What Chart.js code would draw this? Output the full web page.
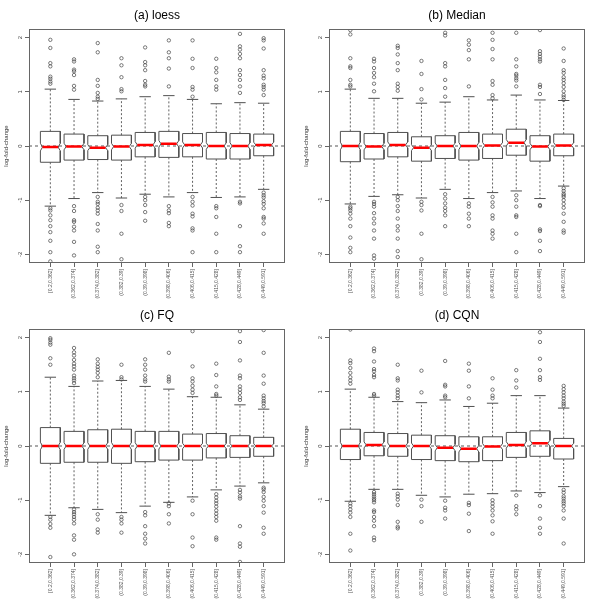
<!DOCTYPE html>
<html>
<head>
<meta charset="utf-8">
<script src="https://cdn.jsdelivr.net/npm/chart.js@4.4.0/dist/chart.umd.min.js"></script>
<style>
  html, body { margin: 0; padding: 0; background: #fff; }
  #grid { width: 600px; height: 600px; display: grid; grid-template-columns: 300px 300px; grid-template-rows: 300px 300px; }
  canvas { display: block; }
</style>
</head>
<body>
<div id="grid">
  <canvas id="chartA" width="300" height="300"></canvas>
  <canvas id="chartB" width="300" height="300"></canvas>
  <canvas id="chartC" width="300" height="300"></canvas>
  <canvas id="chartD" width="300" height="300"></canvas>
</div>
<script>
// categorias (bins) e ticks
const binLabels = ["[0.2,0.362]", "(0.362,0.374]", "(0.374,0.382]", "(0.382,0.39]", "(0.39,0.398]",
  "(0.398,0.406]", "(0.406,0.415]", "(0.415,0.428]", "(0.428,0.449]", "(0.449,0.591]"];
const yTicks = [-2, -1, 0, 1, 2];

// (a) loess
const loessQ1 = [-0.30, -0.26, -0.25, -0.26, -0.20, -0.21, -0.20, -0.24, -0.24, -0.18];
const loessMed = [-0.02, -0.01, -0.03, -0.01, 0.02, 0.04, 0.02, 0.00, 0.00, 0.02];
const loessQ3 = [0.27, 0.22, 0.19, 0.20, 0.25, 0.27, 0.23, 0.25, 0.23, 0.22];
const loessLo = [-1.11, -0.97, -0.86, -0.96, -0.89, -0.94, -0.86, -0.95, -0.94, -0.80];
const loessHi = [1.05, 0.86, 0.83, 0.87, 0.91, 0.93, 0.86, 0.78, 0.80, 0.79];
const loessNotch = [0.07, 0.06, 0.055, 0.06, 0.06, 0.06, 0.055, 0.06, 0.06, 0.05];
const loessOut = [
  [1.96, 1.81, 1.53, 1.47, 1.28, 1.24, 1.19, 1.15, -1.15, -1.19, -1.28, -1.37, -1.48, -1.59, -1.75, -1.96, -2.13],
  [1.60, 1.56, 1.41, 1.38, 1.31, 1.11, 1.04, -1.11, -1.20, -1.37, -1.40, -1.49, -1.56, -1.77, -2.02],
  [1.90, 1.73, 1.22, 1.11, 0.98, 0.91, 0.87, -0.94, -1.03, -1.07, -1.14, -1.19, -1.25, -1.44, -1.56, -1.86, -1.96],
  [1.62, 1.49, 1.27, 1.05, 1.01, -1.09, -1.20, -1.62, -2.09],
  [1.82, 1.55, 1.49, 1.40, 1.20, 1.13, 1.10, -0.94, -1.00, -1.09, -1.22, -1.38],
  [1.95, 1.73, 1.62, 1.43, 1.10, -1.11, -1.19, -1.24, -1.42, -1.48],
  [1.95, 1.61, 1.44, 1.09, 1.04, 0.91, -0.94, -1.03, -1.10, -1.25, -1.30, -1.52, -1.56, -1.96],
  [1.61, 1.44, 1.36, 1.22, 1.10, 1.04, -1.11, -1.15, -1.31, -1.62, -1.96],
  [2.07, 1.84, 1.78, 1.70, 1.62, 1.40, 1.31, 1.22, 1.10, 0.98, -1.03, -1.06, -1.48, -1.85, -1.96],
  [1.99, 1.95, 1.80, 1.40, 1.30, 1.25, 1.13, 1.09, 1.04, 0.94, -0.86, -0.91, -0.95, -1.02, -1.07, -1.15, -1.31, -1.34, -1.43, -1.62]
];

// (b) Median
const medianQ1 = [-0.29, -0.24, -0.20, -0.28, -0.23, -0.26, -0.23, -0.17, -0.28, -0.18];
const medianMed = [0.00, -0.01, 0.02, -0.03, 0.00, 0.00, 0.01, 0.06, -0.01, 0.01];
const medianQ3 = [0.27, 0.23, 0.25, 0.17, 0.19, 0.25, 0.22, 0.31, 0.19, 0.22];
const medianLo = [-1.07, -0.93, -0.90, -0.96, -0.80, -0.97, -0.86, -0.83, -0.97, -0.74];
const medianHi = [1.05, 0.88, 0.88, 0.79, 0.81, 0.91, 0.85, 0.94, 0.85, 0.84];
const medianNotch = [0.07, 0.06, 0.055, 0.055, 0.055, 0.065, 0.055, 0.06, 0.06, 0.05];
const medianOut = [
  [2.14, 2.06, 1.62, 1.47, 1.44, 1.22, 1.13, 1.10, -1.12, -1.15, -1.19, -1.25, -1.34, -1.48, -1.69, -1.88, -1.96],
  [1.61, 1.56, 1.44, 1.35, 1.27, 1.15, 1.01, -1.03, -1.07, -1.12, -1.24, -1.34, -1.43, -1.56, -1.71, -2.02, -2.08],
  [1.85, 1.81, 1.69, 1.53, 1.40, 1.15, 1.09, 1.02, -0.94, -1.00, -1.11, -1.20, -1.34, -1.48, -1.56, -1.71, -1.94, -2.05],
  [1.57, 1.33, 1.05, 0.86, -1.03, -1.09, -1.19, -1.62, -2.09],
  [2.09, 2.04, 1.53, 1.47, 1.22, 1.07, 0.91, -0.89, -0.97, -1.06, -1.14, -1.20, -1.28, -1.48],
  [1.95, 1.87, 1.77, 1.60, 1.10, -1.06, -1.12, -1.25, -1.34, -1.48],
  [2.09, 1.96, 1.79, 1.60, 1.20, 1.13, 0.94, 0.88, -0.94, -1.04, -1.12, -1.28, -1.34, -1.56, -1.62, -1.71],
  [2.09, 1.60, 1.47, 1.33, 1.30, 1.25, 1.21, 1.10, -0.91, -1.00, -1.12, -1.28, -1.31, -1.62, -1.96],
  [2.14, 1.75, 1.70, 1.65, 1.60, 1.56, 1.13, 1.09, 0.96, -1.09, -1.11, -1.54, -1.57, -1.75, -1.94],
  [1.80, 1.57, 1.40, 1.35, 1.27, 1.22, 1.16, 1.09, 1.01, 0.94, 0.90, 0.85, -0.78, -0.83, -0.88, -0.91, -0.94, -1.00, -1.07, -1.14, -1.25, -1.40, -1.56, -1.60]
];

// (c) FQ
const fqQ1 = [-0.32, -0.30, -0.30, -0.32, -0.29, -0.26, -0.26, -0.22, -0.21, -0.19];
const fqMed = [0, 0, 0, 0, 0, 0, 0, 0, 0, 0];
const fqQ3 = [0.34, 0.27, 0.30, 0.31, 0.27, 0.27, 0.22, 0.23, 0.19, 0.16];
const fqLo = [-1.28, -1.14, -1.17, -1.23, -1.11, -1.04, -0.94, -0.81, -0.74, -0.68];
const fqHi = [1.27, 1.10, 1.20, 1.21, 1.10, 1.05, 0.91, 0.90, 0.76, 0.68];
const fqNotch = [0.07, 0.06, 0.06, 0.065, 0.06, 0.055, 0.05, 0.05, 0.045, 0.04];
const fqOut = [
  [1.99, 1.96, 1.91, 1.87, 1.62, 1.50, -1.31, -1.36, -1.44, -1.51, -2.05],
  [1.81, 1.73, 1.67, 1.59, 1.52, 1.47, 1.41, 1.30, 1.25, 1.21, 1.16, -1.17, -1.22, -1.26, -1.31, -1.36, -1.43, -1.65, -1.73, -2.00],
  [1.60, 1.52, 1.46, 1.41, 1.35, 1.27, -1.26, -1.36, -1.54, -1.60],
  [1.50, 1.27, 1.23, -1.31, -1.36, -1.43, -1.60],
  [1.60, 1.50, 1.41, 1.30, 1.23, 1.19, -1.22, -1.28, -1.48, -1.62, -1.71, -1.80],
  [1.72, 1.28, 1.23, 1.19, -1.06, -1.11, -1.26, -1.43],
  [2.12, 1.47, 1.25, 1.19, 1.11, 1.04, 0.98, -1.01, -1.26, -1.69, -1.85],
  [1.52, 1.31, 1.10, 0.96, 0.93, -0.89, -0.95, -1.01, -1.06, -1.12, -1.19, -1.25, -1.31, -1.38, -1.69, -1.73],
  [2.12, 1.92, 1.58, 1.30, 1.25, 1.10, 1.04, 0.98, 0.90, 0.85, -0.81, -0.86, -0.93, -0.97, -1.48, -1.80, -1.86, -2.14],
  [2.14, 1.72, 1.30, 1.15, 0.93, 0.88, 0.83, 0.79, 0.73, -0.77, -0.80, -0.85, -0.94, -1.01, -1.11, -1.23, -1.51, -1.62]
];

// (d) CQN
const cqnQ1 = [-0.25, -0.18, -0.19, -0.25, -0.27, -0.29, -0.27, -0.21, -0.19, -0.24];
const cqnMed = [0.00, 0.02, 0.00, 0.00, -0.03, -0.05, -0.01, 0.02, 0.05, 0.00];
const cqnQ3 = [0.31, 0.25, 0.23, 0.20, 0.19, 0.17, 0.17, 0.25, 0.28, 0.14];
const cqnLo = [-1.02, -0.80, -0.80, -0.91, -0.94, -0.89, -0.88, -0.83, -0.86, -0.75];
const cqnHi = [1.05, 0.90, 0.82, 0.80, 0.85, 0.73, 0.79, 0.93, 0.93, 0.70];
const cqnNotch = [0.065, 0.055, 0.055, 0.055, 0.06, 0.06, 0.055, 0.06, 0.055, 0.05];
const cqnOut = [
  [2.15, 1.58, 1.53, 1.44, 1.35, 1.27, 1.21, 1.15, -1.06, -1.11, -1.17, -1.23, -1.31, -1.62, -1.93],
  [1.80, 1.75, 1.56, 1.42, 1.38, 1.31, 1.27, 0.96, 0.93, -0.85, -0.89, -0.93, -0.97, -1.00, -1.04, -1.19, -1.22, -1.31, -1.38, -1.48, -1.69, -1.74],
  [1.50, 1.25, 1.21, 1.04, 0.99, 0.93, 0.88, -0.88, -0.93, -0.99, -1.09, -1.40, -1.49, -1.52],
  [1.39, 0.99, -0.99, -1.11, -1.40],
  [1.57, 1.13, 1.10, 0.93, 0.90, -1.01, -1.14, -1.19, -1.34],
  [1.52, 1.39, 1.10, 0.88, -1.05, -1.09, -1.25, -1.57],
  [1.25, 1.04, 0.93, 0.88, -1.00, -1.06, -1.12, -1.19, -1.28, -1.39, -1.62],
  [1.40, 1.21, 1.08, -0.91, -1.11, -1.17, -1.26],
  [2.10, 1.92, 1.61, 1.40, 1.27, 1.22, -0.91, -1.11, -1.34, -1.51, -1.62],
  [1.11, 1.05, 0.99, 0.93, 0.88, 0.82, 0.78, 0.74, -0.81, -0.86, -0.93, -0.97, -1.02, -1.06, -1.11, -1.19, -1.34, -1.80]
];

const X_MIN = 0.1, X_MAX = 10.9;
const Y_MIN = -2.16, Y_MAX = 2.16;
const BOX_HALF = 0.42, NOTCH_HALF = 0.33, STAPLE_HALF = 0.24;
const INK = "#505050";

Chart.defaults.font.family = '"Liberation Sans", Arial, sans-serif';

function boxDatasets(q1, med, q3, lo, hi, notch, out) {
  const outline = [], whisk = [], staple = [], medLine = [], pts = [];
  q1.forEach((_, i) => {
    const x = i + 1;
    const up = med[i] + notch[i], dn = med[i] - notch[i];
    outline.push(
      {x: x - BOX_HALF, y: q3[i]}, {x: x + BOX_HALF, y: q3[i]}, {x: x + BOX_HALF, y: up},
      {x: x + NOTCH_HALF, y: med[i]}, {x: x + BOX_HALF, y: dn}, {x: x + BOX_HALF, y: q1[i]},
      {x: x - BOX_HALF, y: q1[i]}, {x: x - BOX_HALF, y: dn}, {x: x - NOTCH_HALF, y: med[i]},
      {x: x - BOX_HALF, y: up}, {x: x - BOX_HALF, y: q3[i]}, {x: x, y: null});
    whisk.push({x: x, y: q3[i]}, {x: x, y: hi[i]}, {x: x, y: null},
      {x: x, y: q1[i]}, {x: x, y: lo[i]}, {x: x, y: null});
    staple.push({x: x - STAPLE_HALF, y: hi[i]}, {x: x + STAPLE_HALF, y: hi[i]}, {x: x, y: null},
      {x: x - STAPLE_HALF, y: lo[i]}, {x: x + STAPLE_HALF, y: lo[i]}, {x: x, y: null});
    medLine.push({x: x - NOTCH_HALF, y: med[i]}, {x: x + NOTCH_HALF, y: med[i]}, {x: x, y: null});
    out[i].forEach(v => pts.push({x: x, y: v}));
  });
  return [
    {data: medLine, borderColor: "#ff0000", borderWidth: 2.5, borderCapStyle: "butt", pointRadius: 0},
    {data: outline, borderColor: INK, borderWidth: 1, pointRadius: 0},
    {data: staple, borderColor: INK, borderWidth: 1, pointRadius: 0},
    {data: whisk, borderColor: INK, borderWidth: 0.9, borderDash: [2, 2], pointRadius: 0},
    {data: pts, showLine: false, pointRadius: 1.7, pointBorderWidth: 0.7,
      pointBackgroundColor: "rgba(0,0,0,0)", pointBorderColor: "#444"},
    {data: [{x: X_MIN, y: 0}, {x: X_MAX, y: 0}], borderColor: "#444", borderWidth: 0.9, borderDash: [3, 3], pointRadius: 0}
  ];
}

// moldura e rótulos do eixo y (girados como no R)
const framePlugin = {
  id: "frame",
  afterDraw(chart) {
    const {ctx, chartArea: a, scales: {y}} = chart;
    ctx.save();
    ctx.strokeStyle = "#666";
    ctx.lineWidth = 1;
    ctx.strokeRect(Math.round(a.left) + 0.5, Math.round(a.top) + 0.5,
      Math.round(a.right - a.left) - 1, Math.round(a.bottom - a.top) - 1);
    ctx.fillStyle = "#444";
    ctx.font = '6px "Liberation Sans", Arial, sans-serif';
    ctx.textAlign = "center";
    ctx.textBaseline = "middle";
    yTicks.forEach(v => {
      ctx.save();
      ctx.translate(a.left - 9, y.getPixelForValue(v));
      ctx.rotate(-Math.PI / 2);
      ctx.fillText(String(v), 0, 0);
      ctx.restore();
    });
    ctx.restore();
  }
};

function makeConfig(title, datasets) {
  return {
    type: "line",
    data: {datasets: datasets},
    options: {
      responsive: false,
      animation: false,
      events: [],
      layout: {padding: {left: 14, right: 0, top: 0, bottom: 0}},
      plugins: {
        legend: {display: false},
        tooltip: {enabled: false},
        title: {
          display: true,
          text: title,
          color: "#000",
          font: {size: 12, weight: "normal"},
          padding: {top: 8, bottom: 6.6}
        }
      },
      scales: {
        x: {
          type: "linear",
          position: "bottom",
          min: X_MIN,
          max: X_MAX,
          afterBuildTicks: s => { s.ticks = binLabels.map((_, i) => ({value: i + 1})); },
          afterFit: s => { s.height = 37; },
          grid: {display: true, drawOnChartArea: false, drawTicks: true, tickLength: 4, color: "#666"},
          border: {display: false},
          ticks: {
            autoSkip: false,
            minRotation: 90,
            maxRotation: 90,
            padding: 2,
            color: "#555",
            font: {size: 5},
            callback: v => binLabels[v - 1]
          }
        },
        y: {
          type: "linear",
          position: "left",
          min: Y_MIN,
          max: Y_MAX,
          afterBuildTicks: s => { s.ticks = yTicks.map(v => ({value: v})); },
          afterFit: s => { s.width = 15; },
          grid: {display: true, drawOnChartArea: false, drawTicks: true, tickLength: 4, color: "#666"},
          border: {display: false},
          ticks: {display: false},
          title: {
            display: true,
            text: "log-fold-change",
            color: "#333",
            font: {size: 6},
            padding: {top: -11.6, bottom: 0}
          }
        },
        y2: {
          type: "linear",
          position: "right",
          min: 0,
          max: 1,
          afterFit: s => { s.width = 15; },
          grid: {display: false},
          border: {display: false},
          ticks: {display: false}
        }
      }
    },
    plugins: [framePlugin]
  };
}

const chartA = new Chart(document.getElementById("chartA"),
  makeConfig("(a) loess", boxDatasets(loessQ1, loessMed, loessQ3, loessLo, loessHi, loessNotch, loessOut)));
const chartB = new Chart(document.getElementById("chartB"),
  makeConfig("(b) Median", boxDatasets(medianQ1, medianMed, medianQ3, medianLo, medianHi, medianNotch, medianOut)));
const chartC = new Chart(document.getElementById("chartC"),
  makeConfig("(c) FQ", boxDatasets(fqQ1, fqMed, fqQ3, fqLo, fqHi, fqNotch, fqOut)));
const chartD = new Chart(document.getElementById("chartD"),
  makeConfig("(d) CQN", boxDatasets(cqnQ1, cqnMed, cqnQ3, cqnLo, cqnHi, cqnNotch, cqnOut)));
</script>
</body>
</html>
